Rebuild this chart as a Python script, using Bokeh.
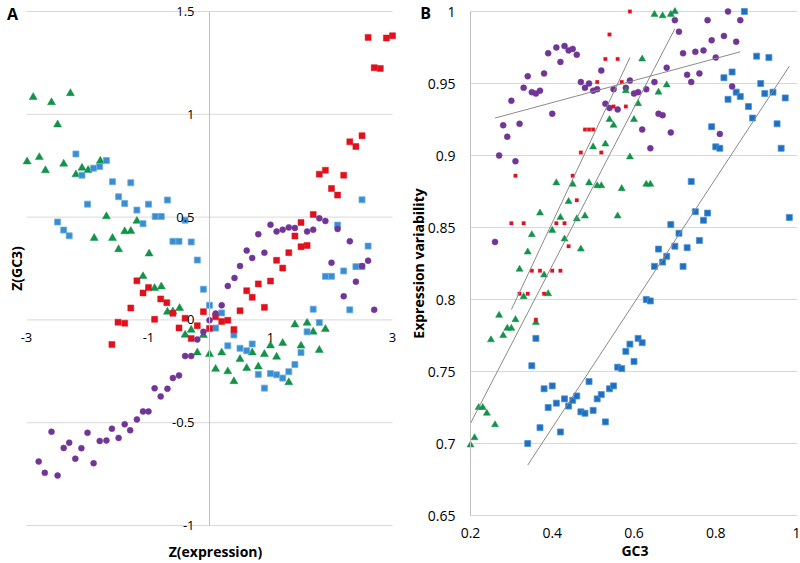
import math
from bokeh.plotting import figure
from bokeh.models import FixedTicker, Range1d, CustomJSTickFormatter, Label
from bokeh.layouts import row
from bokeh.embed import file_html
from bokeh.resources import INLINE

# ---------------- Panel A data: Z(expression) vs Z(GC3) ----------------
a_xticks = [-3, -1, 1, 3]
a_yticks = [-1, -0.5, 0, 0.5, 1, 1.5]

a_green_x = [-2.89, -2.59, -2.28, -2.49, -2.99, -2.79, -2.69, -2.39, -2.19, -2.09,
             -1.99, -1.79, -1.69, -1.89, -1.59, -1.39, -1.29, -1.49, -1.19, -0.99,
             -1.09, -0.90, -0.79, -0.69, -0.49, -0.60, -0.40, -0.30, -0.10, -0.20,
             0.00, 0.10, 0.20, 0.30, 0.40, 0.50, 0.61, 0.70, 0.80, 0.90,
             1.00, 1.10, 1.20, 1.30, 1.40, 1.50, 1.60, 1.70, 1.80, 1.90]
a_green_y = [1.083, 1.058, 1.102, 0.950, 0.770, 0.791, 0.727, 0.759, 0.707, 0.739,
             0.728, 0.773, 0.503, 0.398, 0.398, 0.430, 0.432, 0.343, 0.481, 0.322,
             0.212, 0.154, 0.162, 0.039, 0.057, 0.040, -0.073, -0.049, -0.074, -0.159,
             -0.167, -0.239, -0.159, -0.251, -0.299, -0.191, -0.235, -0.159, -0.227, -0.167,
             -0.125, -0.180, -0.113, -0.304, -0.023, -0.126, -0.015, -0.058, -0.147, -0.045]

a_blue_x = [-2.19, -2.09, -1.90, -1.80, -1.69, -1.59, -1.29, -1.49, -1.39, -2.00,
            -1.19, -1.00, -0.69, -0.89, -0.79, -1.09, -2.49, -2.39, -2.30, -0.60,
            -0.50, -0.30, -0.20, -0.40, 2.50, 2.10, 2.60, 2.20, 2.40, 2.50,
            1.90, 2.00,
            -0.10, 0.00, 0.20, 0.10, 0.40, 0.30, 0.50, 0.61, 0.70, 0.80,
            0.90, 1.00, 1.10, 1.20, 1.30, 1.40, 1.50, 1.60, 1.70, 1.80, 2.30]
a_blue_y = [0.807, 0.704, 0.738, 0.746, 0.775, 0.672, 0.667, 0.599, 0.566, 0.563,
            0.534, 0.563, 0.583, 0.503, 0.503, 0.468, 0.476, 0.437, 0.409, 0.382,
            0.382, 0.379, 0.291, 0.485, 0.584, 0.461, 0.359, 0.238, 0.259, 0.259,
            0.212, 0.212,
            0.149, 0.071, 0.034, -0.040, -0.073, -0.126, -0.138, -0.150, -0.117, -0.265,
            -0.332, -0.261, -0.267, -0.283, -0.252, -0.217, -0.159, -0.058, 0.052, -0.013, 0.049]

a_red_x = [2.60, 2.90, 3.00, 2.70, 2.80, 2.50, 2.30, 2.40, 1.80, 1.90,
           2.20, 2.00, 2.10, 1.70, 1.50, 1.40, 1.30, 1.10, 1.20, 1.60, 1.50,
           -1.19, -1.00, -1.09, -1.29, -1.50, -1.39, -1.60, -0.80, -0.70, -0.60,
           -0.90, -0.40, -0.50, -0.30, -0.20, -0.10, 0.00, 0.10, 0.20, 0.30,
           0.40, 0.50, 0.61, 0.70, 0.80, 0.90, 1.00]
a_red_y = [1.374, 1.371, 1.382, 1.227, 1.223, 0.896, 0.866, 0.843, 0.709, 0.728,
           0.704, 0.639, 0.607, 0.513, 0.474, 0.408, 0.327, 0.290, 0.252, 0.362, 0.356,
           0.190, 0.157, 0.131, 0.058, -0.011, -0.016, -0.120, 0.102, 0.084, 0.032,
           0.003, 0.008, -0.039, -0.091, -0.028, 0.040, -0.042, 0.015, -0.008, -0.002,
           -0.047, 0.044, 0.142, 0.110, 0.175, 0.061, 0.189]

a_purple_x = [1.00, 1.10, 1.20, 1.30, 1.40, 1.60, 1.70, 1.80, 1.90, 0.80,
              0.61, 0.70, 0.90, 0.50, 2.10, 2.30, 2.00, 2.60, 2.50, 0.41,
              0.30, 0.20, 0.10, 0.00, -0.10, -0.20, -0.40, -0.30, -0.50, -0.60,
              -0.69, -0.90, -0.80, -1.00, -1.09, -1.19, -1.30, -1.39, -1.49, -1.60,
              -1.69, -1.80, -1.90, -2.00, -2.10, -2.20, -2.30, -2.39, -2.59, -2.80,
              -2.70, -2.49, 2.20, 2.40, 2.70]
a_purple_y = [0.463, 0.430, 0.439, 0.450, 0.447, 0.430, 0.439, 0.494, 0.481, 0.417,
              0.337, 0.301, 0.327, 0.262, 0.442, 0.382, 0.278, 0.288, 0.262, 0.204,
              0.165, 0.071, 0.031, -0.002, -0.058, -0.095, -0.176, -0.176, -0.270, -0.283,
              -0.335, -0.333, -0.372, -0.445, -0.445, -0.484, -0.537, -0.508, -0.574, -0.529,
              -0.587, -0.589, -0.697, -0.549, -0.624, -0.675, -0.597, -0.623, -0.544, -0.689,
              -0.744, -0.757, 0.115, 0.186, 0.049]

# ---------------- Panel B data: GC3 vs Expression variability ----------------
b_xticks = [0.2, 0.4, 0.6, 0.8, 1]
b_yticks = [0.65, 0.7, 0.75, 0.8, 0.85, 0.9, 0.95, 1]

b_purple_x = [0.39, 0.41, 0.43, 0.44, 0.45, 0.46, 0.42, 0.38, 0.34, 0.33,
              0.35, 0.36, 0.37, 0.30, 0.40, 0.28, 0.32, 0.29, 0.27, 0.31,
              0.26, 0.52, 0.47, 0.49, 0.48, 0.50, 0.51, 0.53, 0.54, 0.56,
              0.55, 0.58, 0.59, 0.60,
              0.83, 0.70, 0.78, 0.86, 0.71, 0.82, 0.79, 0.85, 0.72, 0.75,
              0.77, 0.80, 0.68, 0.73, 0.76, 0.74, 0.65, 0.61, 0.63, 0.66,
              0.67, 0.62, 0.69, 0.64, 0.84, 0.81]
b_purple_y = [0.971, 0.975, 0.976, 0.973, 0.974, 0.970, 0.965, 0.957, 0.955, 0.947,
              0.944, 0.943, 0.945, 0.938, 0.929, 0.921, 0.922, 0.913, 0.900, 0.896,
              0.840, 0.959, 0.951, 0.950, 0.947, 0.945, 0.946, 0.936, 0.933, 0.932,
              0.946, 0.947, 0.952, 0.943,
              1.000, 0.994, 0.994, 0.994, 0.986, 0.983, 0.980, 0.979, 0.971, 0.972,
              0.973, 0.968, 0.961, 0.956, 0.957, 0.951, 0.951, 0.944, 0.946, 0.929,
              0.928, 0.918, 0.916, 0.905, 0.948, 0.915]

b_red_x = [0.59, 0.54, 0.53, 0.56, 0.51, 0.57, 0.58, 0.55, 0.48, 0.49, 0.50, 0.47, 0.52,
           0.31, 0.45, 0.46, 0.30, 0.33, 0.41, 0.43, 0.44, 0.35, 0.37, 0.40, 0.42,
           0.32, 0.34, 0.38, 0.36]
b_red_y = [1.000, 0.984, 0.967, 0.967, 0.951, 0.951, 0.934, 0.934, 0.918, 0.918, 0.918, 0.902, 0.902,
           0.886, 0.886, 0.869, 0.853, 0.853, 0.853, 0.853, 0.837, 0.820, 0.820, 0.820, 0.820,
           0.804, 0.804, 0.804, 0.786]

b_green_x = [0.65, 0.67, 0.69, 0.70, 0.62, 0.68, 0.66, 0.61, 0.60,
             0.58, 0.54, 0.55, 0.50, 0.53, 0.59,
             0.41, 0.45, 0.49, 0.51, 0.52, 0.57, 0.44, 0.37, 0.42, 0.46,
             0.48, 0.56, 0.40, 0.35, 0.43, 0.47, 0.34, 0.32, 0.38, 0.39, 0.33,
             0.63, 0.64,
             0.20, 0.21, 0.22, 0.23, 0.24, 0.26, 0.25, 0.27, 0.28, 0.29, 0.30, 0.31, 0.36]
b_green_y = [0.998, 0.997, 0.998, 1.000, 0.967, 0.949, 0.944, 0.936, 0.925,
             0.945, 0.925, 0.921, 0.906, 0.908, 0.899,
             0.881, 0.880, 0.881, 0.879, 0.879, 0.877, 0.868, 0.860, 0.857, 0.856,
             0.858, 0.858, 0.848, 0.845, 0.842, 0.835, 0.833, 0.821, 0.817, 0.804, 0.802,
             0.880, 0.880,
             0.699, 0.704, 0.725, 0.725, 0.721, 0.713, 0.772, 0.789, 0.775, 0.780, 0.780, 0.786, 0.784]

b_blue_x = [0.87, 0.90, 0.93, 0.84, 0.82, 0.91, 0.85, 0.92, 0.94, 0.86,
            0.83, 0.97, 0.88, 0.89, 0.95, 0.79, 0.80, 0.81, 0.96,
            0.74, 0.75, 0.78, 0.77, 0.98, 0.69, 0.71, 0.76, 0.66, 0.70,
            0.73, 0.68, 0.67, 0.65, 0.72, 0.63, 0.64,
            0.34, 0.37, 0.35, 0.36, 0.38, 0.39, 0.40, 0.41, 0.42, 0.43,
            0.44, 0.45, 0.46, 0.47, 0.48, 0.49, 0.50, 0.51, 0.52, 0.53,
            0.54, 0.55, 0.56, 0.57, 0.58, 0.59, 0.60, 0.61, 0.62]
b_blue_y = [1.000, 0.969, 0.968, 0.958, 0.954, 0.950, 0.944, 0.943, 0.944, 0.941,
            0.939, 0.940, 0.934, 0.926, 0.922, 0.920, 0.906, 0.905, 0.905,
            0.882, 0.861, 0.860, 0.855, 0.857, 0.852, 0.846, 0.841, 0.835, 0.837,
            0.836, 0.830, 0.826, 0.823, 0.823, 0.800, 0.799,
            0.700, 0.711, 0.754, 0.773, 0.738, 0.725, 0.740, 0.728, 0.708, 0.731,
            0.726, 0.730, 0.733, 0.722, 0.721, 0.743, 0.723, 0.731, 0.734, 0.715,
            0.738, 0.740, 0.753, 0.752, 0.764, 0.769, 0.757, 0.773, 0.770]

# linear trend lines (end points)
trend_red_x, trend_red_y = [0.30, 0.59], [0.793, 0.968]
trend_green_x, trend_green_y = [0.20, 0.70], [0.714, 0.988]
trend_blue_x, trend_blue_y = [0.34, 0.98], [0.685, 0.962]
trend_purple_x, trend_purple_y = [0.26, 0.86], [0.926, 0.972]

# ---------------- styles ----------------
FONT = "Open Sans"
GRID = "#d9d9d9"
AXIS = "#bfbfbf"
GREEN = "#12934a"
BLUE_A = "#3a8dd0"
BLUE_B = "#1e6fbf"
RED = "#e0111d"
PURPLE = "#713597"
TREND = "#8a8a8a"

W_A, W_B, H = 402, 398, 562


def style_ticks(ax, ticks, size, standoff, line_color):
    ax.ticker = FixedTicker(ticks=ticks)
    ax.formatter = CustomJSTickFormatter(code="return tick.toString();")
    ax.axis_line_color = line_color
    ax.major_tick_line_color = None
    ax.minor_tick_line_color = None
    ax.major_tick_out = 0
    ax.major_tick_in = 0
    ax.minor_tick_out = 0
    ax.minor_tick_in = 0
    ax.major_label_standoff = standoff
    ax.major_label_text_font = FONT
    ax.major_label_text_font_size = size
    ax.major_label_text_color = "#000000"
    ax.axis_label = None


def text_label(x, y, text, dx=0, dy=0, angle=0.0, size="14px"):
    return Label(x=x, y=y, x_offset=dx, y_offset=dy, text=text, angle=angle,
                 text_align="center", text_baseline="middle", text_font=FONT,
                 text_font_style="bold", text_font_size=size, text_color="#000000")


def base_fig(width, xr, yr):
    p = figure(width=width, height=H, x_range=xr, y_range=yr,
               output_backend="svg", toolbar_location=None,
               min_border_left=0, min_border_right=0, min_border_top=0, min_border_bottom=0)
    p.outline_line_color = None
    p.border_fill_color = "white"
    p.background_fill_color = "white"
    p.xgrid.visible = False
    p.ygrid.visible = False
    try:
        p.frame_align = False
    except Exception:
        pass
    return p


# ---------------- Panel A ----------------
# the plot frame fills the whole figure (so the in-plot texts are not clipped);
# the ranges are widened around the [-3, 3] x [-1, 1.5] data box accordingly
pxA, pyA = 61.0, 205.6          # pixels per data unit
pA = base_fig(W_A,
              Range1d(-3 - 26 / pxA, 3 + (W_A - 392) / pxA),
              Range1d(-1 - 37 / pyA, 1.5 + 11 / pyA))

xa = pA.xaxis[0]
xa.fixed_location = 0
style_ticks(xa, a_xticks, "13px", 13, None)
ya = pA.yaxis[0]
ya.fixed_location = 0
ya.bounds = (min(a_yticks), max(a_yticks))
style_ticks(ya, a_yticks, "13px", 15, AXIS)

nA = len(a_yticks)
pA.segment(x0=[min(a_xticks)] * nA, y0=a_yticks, x1=[max(a_xticks)] * nA, y1=a_yticks,
           line_color=GRID, line_width=1, level="underlay")

pA.scatter(a_green_x, a_green_y, marker="triangle", size=8, fill_color=GREEN, line_color=GREEN, line_width=0.5)
pA.scatter(a_blue_x, a_blue_y, marker="square", size=6, fill_color=BLUE_A, line_color="#6aaee0", line_width=0.8)
pA.scatter(a_red_x, a_red_y, marker="square", size=6, fill_color=RED, line_color=RED, line_width=0.5)
pA.scatter(a_purple_x, a_purple_y, marker="circle", size=6, fill_color=PURPLE, line_color=PURPLE, line_width=0.5)

pA.add_layout(text_label(-3, 1.5, "A", dx=-14, dy=-2, size="16px"))
pA.add_layout(text_label(-3, 0.25, "Z(GC3)", dx=-10, angle=math.pi / 2))
pA.add_layout(text_label(0, -1, "Z(expression)", dx=6, dy=-26))

# ---------------- Panel B ----------------
pxB, pyB = 408.75, 1440.0       # pixels per data unit
pB = base_fig(W_B,
              Range1d(0.2 - 68 / pxB, 1 + 3 / pxB),
              Range1d(0.65 - 47 / pyB, 1 + 11 / pyB))

xb = pB.xaxis[0]
xb.fixed_location = min(b_yticks)
style_ticks(xb, b_xticks, "14px", 12, None)
yb = pB.yaxis[0]
yb.fixed_location = min(b_xticks)
yb.bounds = (min(b_yticks), max(b_yticks))
style_ticks(yb, b_yticks, "14px", 15, AXIS)

nB = len(b_yticks)
pB.segment(x0=[min(b_xticks)] * nB, y0=b_yticks, x1=[max(b_xticks)] * nB, y1=b_yticks,
           line_color=GRID, line_width=1, level="underlay")

pB.scatter(b_purple_x, b_purple_y, marker="circle", size=6, fill_color=PURPLE, line_color=PURPLE, line_width=0.5)
pB.scatter(b_blue_x, b_blue_y, marker="square", size=6, fill_color=BLUE_B, line_color="#4f92d4", line_width=0.8)
pB.scatter(b_green_x, b_green_y, marker="triangle", size=7, fill_color=GREEN, line_color=GREEN, line_width=0.5)
pB.scatter(b_red_x, b_red_y, marker="square", size=3.5, fill_color=RED, line_color=RED, line_width=0.3)

for tx, ty in ((trend_red_x, trend_red_y), (trend_green_x, trend_green_y),
               (trend_blue_x, trend_blue_y), (trend_purple_x, trend_purple_y)):
    pB.line(tx, ty, line_color=TREND, line_width=1)

pB.add_layout(text_label(0.2, 1.0, "B", dx=-45, dy=-1, size="16px"))
pB.add_layout(text_label(0.2, 0.825, "Expression variability", dx=-52, angle=math.pi / 2))
pB.add_layout(text_label(0.6, 0.65, "GC3", dx=1, dy=-35))

layout = row(pA, pB)
open("out.html", "w").write(file_html(layout, INLINE))
